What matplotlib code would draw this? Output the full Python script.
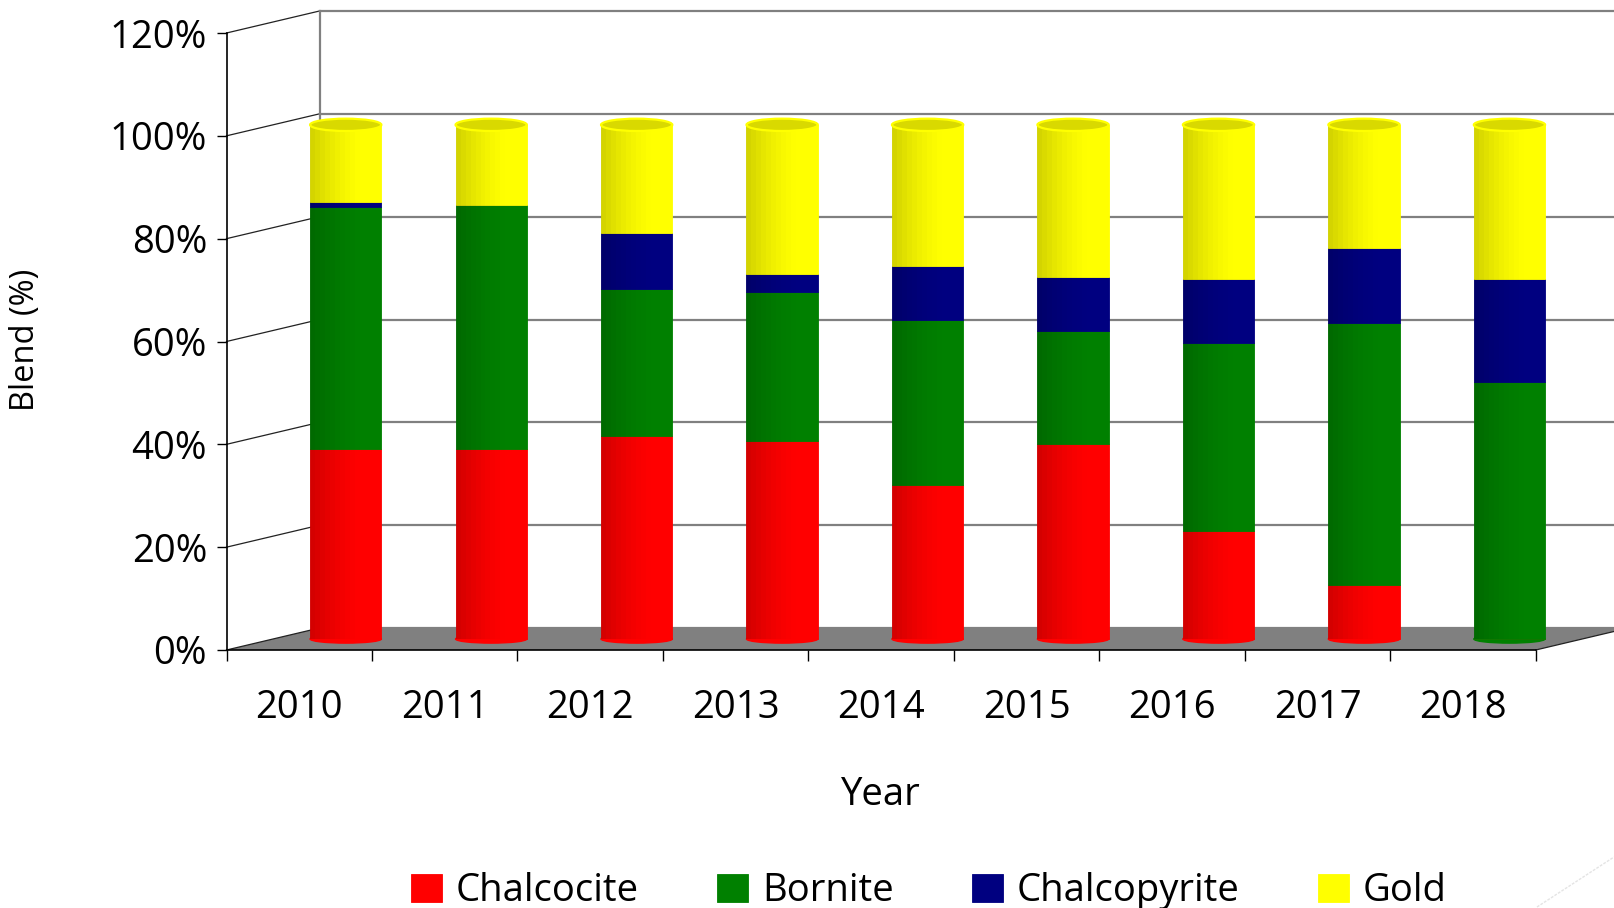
import numpy as np
import matplotlib
matplotlib.use("Agg")
import matplotlib.pyplot as plt
from matplotlib import transforms
from matplotlib.patches import Polygon, Ellipse

plt.rcParams["font.family"] = ["Open Sans", "DejaVu Sans"]

years = ["2010", "2011", "2012", "2013", "2014", "2015", "2016", "2017", "2018"]
chalcocite = [37, 37, 39.5, 38.5, 30, 38, 21, 10.5, 0]
bornite = [47, 47.5, 28.5, 29, 32, 22, 36.5, 51, 50]
chalcopyrite = [1, 0, 11, 3.5, 10.5, 10.5, 12.5, 14.5, 20]
gold = [15, 15.5, 21, 29, 27.5, 29.5, 30, 24, 30]
series = ["Chalcocite", "Bornite", "Chalcopyrite", "Gold"]
colors = ["#ff0000", "#008000", "#000080", "#ffff00"]

W, H, DPI = 1614, 908, 100
X0, X1, YB, YT = 226.5, 1535.7, 650, 33   # front frame of the plot, px from top-left
DX, DY = 93, 22                          # depth of the fake 3-D box
FS = 27.5

fig = plt.figure(figsize=(W / DPI, H / DPI), dpi=DPI)

# --- background: walls + floor, in pixel coords ---
bg = fig.add_axes([0, 0, 1, 1], zorder=0)
bg.set_xlim(0, W); bg.set_ylim(H, 0); bg.axis("off")
ticks = np.arange(0, 121, 20)
ypx = YB - ticks / 120 * (YB - YT)
bg.add_patch(Polygon([(X0, YB), (X1, YB), (X1 + DX, YB - DY), (X0 + DX, YB - DY)],
                     fc="#808080", ec="none"))
for y in ypx:
    bg.plot([X0, X0 + DX], [y, y - DY], color="#222222", lw=0.9)
    bg.plot([X0 + DX, W], [y - DY, y - DY], color="#808080", lw=1.6)
bg.plot([X0 + DX] * 2, [YT - DY, YB - DY], color="#808080", lw=1.6)
bg.plot([X1, X1 + DX], [YB, YB - DY], color="#222222", lw=0.9)
bg.plot([1537, 1614], [907, 857], color="#e4e4e4", lw=1, ls=(0, (2, 1)))

# --- main axes: front plane ---
ax = fig.add_axes([X0 / W, 1 - YB / H, (X1 - X0) / W, (YB - YT) / H], zorder=1)
ax.patch.set_alpha(0)
ax.set_xlim(-0.5, len(years) - 0.5); ax.set_ylim(0, 120)
for s in ("top", "right"):
    ax.spines[s].set_visible(False)
for s in ("left", "bottom"):
    ax.spines[s].set_linewidth(1.2)

x = np.arange(len(years))
tr = ax.transData + transforms.ScaledTranslation(DX / 2 / DPI, DY / 2 / DPI, fig.dpi_scale_trans)
bw = 0.49
bottom = np.zeros(len(years))
handles = []
all_vals = [chalcocite, bornite, chalcopyrite, gold]
for name, vals, c in zip(series, all_vals, colors):
    vals = np.array(vals, float)
    b = ax.bar(x, vals, bw, bottom=bottom, color=c, edgecolor=c, lw=0.6, label=name,
               transform=tr, clip_on=False, zorder=2)
    handles.append(b)
    # cylinder shading: darker strips on the left
    n = 10
    for k in range(n):
        a = 0.17 * (1 - k / n) ** 1.5
        ax.bar(x - bw / 2 + (k + 0.5) * bw * 0.7 / n, vals, bw * 0.7 / n, bottom=bottom,
               color="black", alpha=a, lw=0, transform=tr, clip_on=False, zorder=2.1)
    bottom += vals

# rounded bottoms and tops
for i, xi in enumerate(x):
    first = next(c for v, c in zip(all_vals, colors) if v[i] > 0)
    ax.add_patch(Ellipse((xi, 0), bw, 1.6, transform=tr, fc=first, ec=first,
                         clip_on=False, zorder=1.9))
    ax.add_patch(Ellipse((xi, bottom[i]), bw, 2.4, transform=tr, fc="#d9d900",
                         ec="#ffff00", lw=1.6, clip_on=False, zorder=3))

ax.set_yticks(ticks, [f"{t}%" for t in ticks])
ax.tick_params(axis="y", direction="out", length=7, width=1, pad=7, labelsize=FS)
ax.set_xticks(np.arange(-0.5, len(years)), [""] * (len(years) + 1))
ax.set_xticks(x, years, minor=True)
ax.tick_params(axis="x", which="major", length=8, width=1)
ax.tick_params(axis="x", which="minor", length=0, pad=28, labelsize=FS)

fig.text(881 / W, 1 - 795 / H, "Year", ha="center", va="center", fontsize=FS)
fig.text(26 / W, 1 - 340 / H, "Blend (%)", ha="center", va="center", rotation=90, fontsize=23.5)
fig.legend(handles=handles, loc="center", bbox_to_anchor=(929 / W, 1 - 891 / H), ncol=4,
           frameon=False, fontsize=FS, handlelength=0.8, handleheight=0.75,
           handletextpad=0.37, columnspacing=2.05, borderaxespad=0)

fig.savefig("out.png", dpi=DPI)
